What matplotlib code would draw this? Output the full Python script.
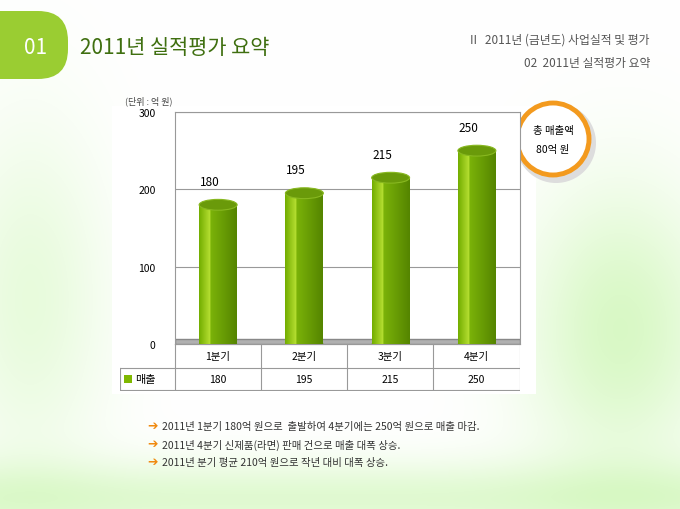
import matplotlib.pyplot as plt
import numpy as np
from matplotlib.patches import Ellipse, FancyBboxPatch, Circle, Rectangle

plt.rcParams['font.family'] = ['Noto Sans CJK KR', 'DejaVu Sans']

quarters = ['1분기', '2분기', '3분기', '4분기']
sales = [180, 195, 215, 250]
series_name = '매출'
notes = ['2011년 1분기 180억 원으로  출발하여 4분기에는 250억 원으로 매출 마감.',
         '2011년 4분기 신제품(라면) 판매 건으로 매출 대폭 상승.',
         '2011년 분기 평균 210억 원으로 작년 대비 대폭 상승.']

W, H = 680, 510
fig = plt.figure(figsize=(6.8, 5.1), dpi=100)

# background
bg = fig.add_axes([0, 0, 1, 1])
bg.set_xlim(0, W); bg.set_ylim(H, 0); bg.axis('off')
yy, xx = np.mgrid[0:H, 0:W]
g = np.ones((H, W, 3))
glow = np.exp(-((xx - 620) ** 2 / 9000 + (yy - 330) ** 2 / 20000)) * 0.25
glow += np.exp(-((xx - 30) ** 2 / 6000 + (yy - 300) ** 2 / 30000)) * 0.15
glow += np.exp(-((yy - 500) ** 2 / 1500)) * 0.2
g[..., 0] -= glow * 0.6
g[..., 2] -= glow * 0.9
g[..., 1] -= glow * 0.1
bg.imshow(np.clip(g, 0, 1), extent=(0, W, H, 0), zorder=0)
bg.set_xlim(0, W); bg.set_ylim(H, 0)
bg.add_patch(FancyBboxPatch((-40, 12), 108, 68, boxstyle='round,pad=0,rounding_size=30',
                            fc='#9acd32', ec='none', zorder=1))
bg.text(36, 48, '01', fontsize=15, color='white', ha='center', va='center', zorder=2)
bg.text(80, 48, '2011년 실적평가 요약', fontsize=15, color='#3f6f10', va='center')
bg.text(650, 40, 'II   2011년 (금년도) 사업실적 및 평가', fontsize=8.5, color='#555555', ha='right', va='center')
bg.text(650, 63, '02  2011년 실적평가 요약', fontsize=8.5, color='#555555', ha='right', va='center')
bg.add_patch(Rectangle((112, 107), 424, 288, fc='white', ec='none', zorder=1))
bg.text(125, 101, '(단위 : 억 원)', fontsize=6.5, color='#444444', va='center')
bg.add_patch(Circle((556, 144), 40, fc='#dddddd', ec='none', zorder=2))
bg.add_patch(Circle((553, 140), 36, fc='white', ec='#f39a1e', lw=3.5, zorder=3))
bg.text(553, 131, '총 매출액', fontsize=7.5, ha='center', va='center', zorder=4)
bg.text(553, 150, '80억 원', fontsize=7.5, ha='center', va='center', zorder=4)
for i, n in enumerate(notes):
    y = 427 + i * 18
    bg.text(147, y, '➔', fontsize=9, color='#f08a10', va='center', family=['DejaVu Sans'])
    bg.text(162, y, n, fontsize=7.5, color='#333333', va='center')

# chart
ax = fig.add_axes([175 / W, (H - 345) / H, 345 / W, 232 / H])
x = np.arange(len(quarters))
ax.set_xlim(-0.5, 3.5); ax.set_ylim(0, 300)
ax.set_yticks([0, 100, 200, 300])
ax.tick_params(axis='y', labelsize=7.5, length=0, pad=14)
ax.set_xticks([])
ax.grid(axis='y', color='#999999', lw=0.8)
ax.set_axisbelow(True)
for s in ax.spines.values():
    s.set_color('#999999')
ax.add_patch(Rectangle((-0.5, 0), 4, 6, fc='#b0b0b0', ec='#888888', zorder=1))
bw = 0.44
grad = np.linspace(0, 1, 100)
cols = np.array([[0.55, 0.78, 0.05]]) * (1 - grad[:, None]) + np.array([[0.33, 0.52, 0.0]]) * grad[:, None]
cols[:30] = np.array([0.45, 0.68, 0.0]) + (np.array([0.72, 0.88, 0.2]) - np.array([0.45, 0.68, 0.0])) * (grad[:30, None] / 0.3)
img = cols[None, :, :]
bars = ax.bar(x, sales, width=bw, color='none', zorder=3)
for b, v in zip(bars, sales):
    im = ax.imshow(img, extent=(b.get_x(), b.get_x() + bw, 0, v), aspect='auto', zorder=3)
    im.set_clip_path(b)
    ax.add_patch(Ellipse((b.get_x() + bw / 2, v), bw, 14, fc='#6a9a0a', ec='#88b820', lw=0.8, zorder=4))
    ax.add_patch(Ellipse((b.get_x() + bw / 2, 0), bw, 14, fc='#5a8a05', ec='none', zorder=2))
    ax.text(b.get_x() + bw / 2 - 0.1, v + 22, str(v), ha='center', va='bottom', fontsize=8.5)
ax.set_xlim(-0.5, 3.5); ax.set_ylim(0, 300)

# data table
tb = fig.add_axes([120 / W, (H - 392) / H, 400 / W, 47 / H])
tb.set_xlim(120, 520); tb.set_ylim(392, 345); tb.axis('off')
edges = [175, 261, 347, 433, 520]
tb.plot([175, 520], [345, 345], color='#999999', lw=0.8)
tb.plot([120, 520], [369, 369], color='#999999', lw=0.8)
tb.plot([120, 520], [391, 391], color='#999999', lw=0.8)
tb.plot([120, 120], [369, 391], color='#999999', lw=0.8)
for e in edges:
    tb.plot([e, e], [345, 391], color='#999999', lw=0.8)
for i in range(4):
    cx = (edges[i] + edges[i + 1]) / 2
    tb.text(cx, 357, quarters[i], ha='center', va='center', fontsize=7.5)
    tb.text(cx, 380, str(sales[i]), ha='center', va='center', fontsize=7.5)
tb.add_patch(Rectangle((124, 376), 8, 8, fc='#7fb800', ec='none'))
tb.text(135, 380, series_name, va='center', fontsize=8)

fig.savefig('out.png', dpi=100)
